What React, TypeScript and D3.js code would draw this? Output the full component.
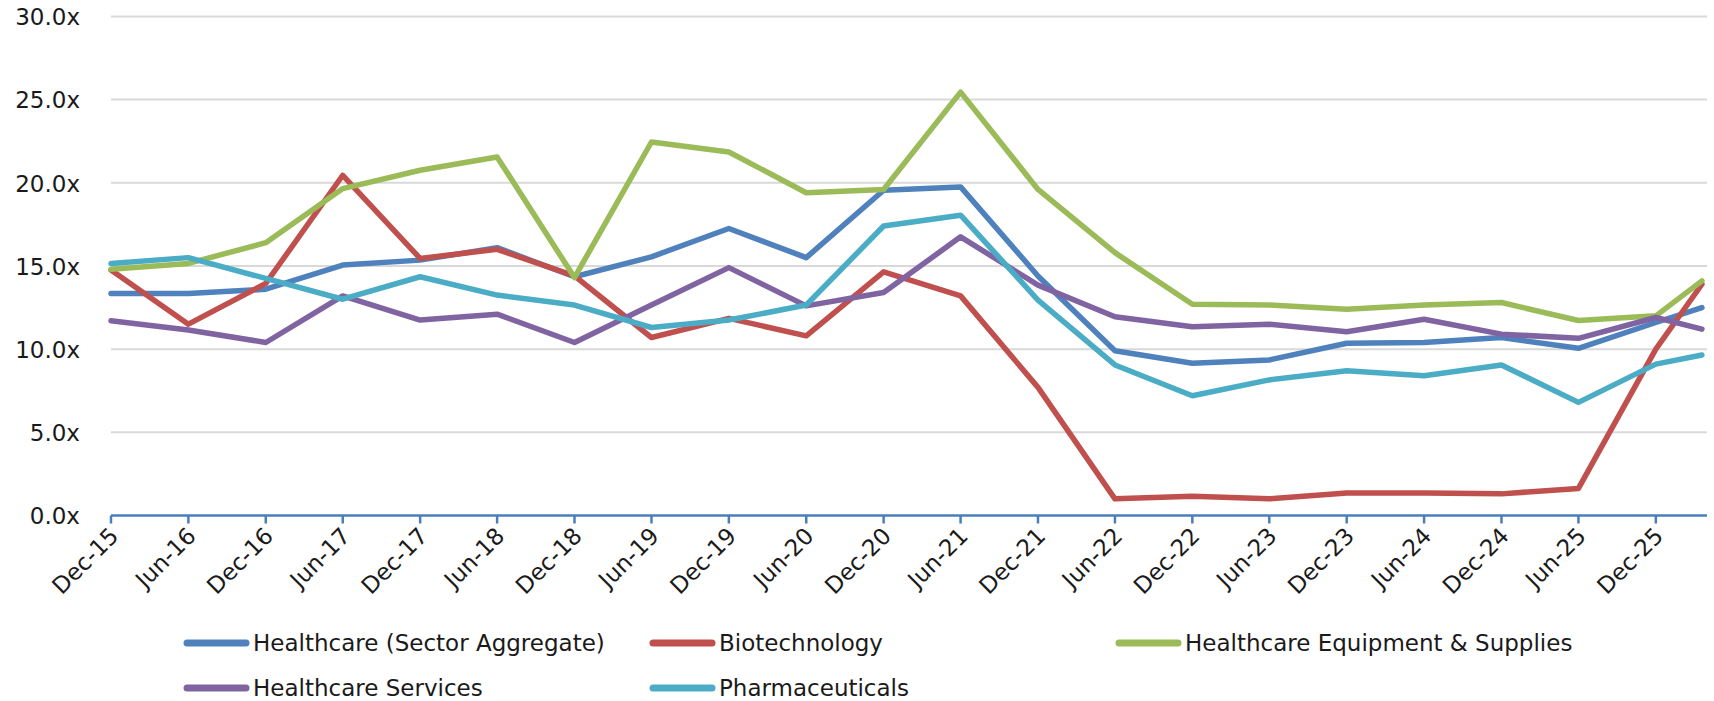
import React, { useEffect, useRef } from "react";
import * as d3 from "d3";

// semi-annual period labels on the x axis
const periods = [
  "Dec-15", "Jun-16", "Dec-16", "Jun-17", "Dec-17", "Jun-18", "Dec-18",
  "Jun-19", "Dec-19", "Jun-20", "Dec-20", "Jun-21", "Dec-21", "Jun-22",
  "Dec-22", "Jun-23", "Dec-23", "Jun-24", "Dec-24", "Jun-25", "Dec-25",
];
// last (current) observation, between Dec-25 and Jun-26
const latestDate = "2026-03-20";
const axisEndDate = "2026-04-01";

const yTicks = [0, 5, 10, 15, 20, 25, 30];

const seriesNames = [
  "Healthcare (Sector Aggregate)",
  "Biotechnology",
  "Healthcare Equipment & Supplies",
  "Healthcare Services",
  "Pharmaceuticals",
];

const healthcare = [13.35, 13.35, 13.6, 15.05, 15.35, 16.1, 14.35, 15.55, 17.25, 15.5, 19.55, 19.75, 14.4, 9.9, 9.15, 9.35, 10.35, 10.4, 10.7, 10.05, 11.6, 12.5];
const biotech = [14.75, 11.5, 13.95, 20.45, 15.45, 16.0, 14.4, 10.7, 11.85, 10.8, 14.65, 13.2, 7.7, 1.0, 1.15, 1.0, 1.35, 1.35, 1.3, 1.63, 10.0, 13.9];
const equipment = [14.8, 15.15, 16.4, 19.65, 20.75, 21.55, 14.3, 22.45, 21.85, 19.4, 19.6, 25.45, 19.6, 15.8, 12.7, 12.65, 12.4, 12.65, 12.8, 11.72, 12.0, 14.1];
const services = [11.7, 11.15, 10.4, 13.2, 11.75, 12.1, 10.4, 12.65, 14.9, 12.6, 13.4, 16.75, 13.85, 11.95, 11.35, 11.5, 11.05, 11.8, 10.9, 10.65, 11.9, 11.2];
const pharma = [15.15, 15.5, 14.25, 13.0, 14.35, 13.25, 12.65, 11.3, 11.75, 12.65, 17.4, 18.05, 12.95, 9.05, 7.2, 8.15, 8.7, 8.4, 9.05, 6.8, 9.1, 9.65];

const colors = ["#4F81BD", "#C0504D", "#9BBB59", "#8064A2", "#4BACC6"];

const FONT = "'DejaVu Sans', sans-serif";

export default function App() {
  const svgRef = useRef<SVGSVGElement | null>(null);
  const width = 1714;
  const height = 701;

  useEffect(() => {
    if (!svgRef.current) return;
    const svg = d3.select(svgRef.current);
    svg.selectAll("*").remove();

    const parse = d3.utcParse("%b-%y");
    const tickDates = periods.map((p) => parse(p) as Date);
    const dates = [...tickDates, new Date(latestDate)];

    const x = d3
      .scaleUtc()
      .domain([tickDates[0], new Date(axisEndDate)])
      .range([111, 1707]);
    const y = d3.scaleLinear().domain([0, 30]).range([515.5, 16.4]);

    // gridlines
    svg
      .append("g")
      .selectAll("line")
      .data(yTicks.filter((t) => t > 0))
      .enter()
      .append("line")
      .attr("x1", x.range()[0])
      .attr("x2", x.range()[1])
      .attr("y1", (d) => y(d))
      .attr("y2", (d) => y(d))
      .attr("stroke", "#d9d9d9")
      .attr("stroke-width", 2);

    // y labels
    svg
      .append("g")
      .selectAll("text")
      .data(yTicks)
      .enter()
      .append("text")
      .attr("x", 80)
      .attr("y", (d) => y(d))
      .attr("dy", "0.38em")
      .attr("text-anchor", "end")
      .attr("font-family", FONT)
      .attr("font-size", 23)
      .attr("fill", "#1a1a1a")
      .text((d) => d.toFixed(1) + "x");

    // series lines
    const all = [healthcare, biotech, equipment, services, pharma];
    const line = d3
      .line<number>()
      .x((_, i) => x(dates[i]))
      .y((d) => y(d));

    svg
      .append("g")
      .selectAll("path")
      .data(all)
      .enter()
      .append("path")
      .attr("d", (d) => line(d))
      .attr("fill", "none")
      .attr("stroke", (_, i) => colors[i])
      .attr("stroke-width", 5.5)
      .attr("stroke-linejoin", "round")
      .attr("stroke-linecap", "round");

    // x axis
    const xAxis = svg.append("g");
    xAxis
      .append("line")
      .attr("x1", x.range()[0])
      .attr("x2", x.range()[1])
      .attr("y1", y(0))
      .attr("y2", y(0))
      .attr("stroke", "#4A7EBB")
      .attr("stroke-width", 2.5);
    xAxis
      .selectAll(".tick")
      .data(tickDates)
      .enter()
      .append("line")
      .attr("x1", (d) => x(d))
      .attr("x2", (d) => x(d))
      .attr("y1", y(0))
      .attr("y2", y(0) + 8)
      .attr("stroke", "#4A7EBB")
      .attr("stroke-width", 2.5);
    xAxis
      .selectAll("text")
      .data(tickDates)
      .enter()
      .append("text")
      .attr("transform", (d) => `translate(${x(d) - 3}, ${y(0) + 10}) rotate(-45)`)
      .attr("dy", "0.73em")
      .attr("text-anchor", "end")
      .attr("font-family", FONT)
      .attr("font-size", 23)
      .attr("fill", "#1a1a1a")
      .text((_, i) => periods[i]);

    // legend, two rows
    const legendX = [184, 650, 1116];
    const legend = svg
      .append("g")
      .selectAll("g")
      .data(seriesNames)
      .enter()
      .append("g")
      .attr("transform", (_, i) => `translate(${legendX[i % 3]}, ${i < 3 ? 643 : 688})`);
    legend
      .append("line")
      .attr("x1", 3)
      .attr("x2", 62)
      .attr("stroke", (_, i) => colors[i])
      .attr("stroke-width", 7)
      .attr("stroke-linecap", "round");
    legend
      .append("text")
      .attr("x", 69)
      .attr("dy", "0.36em")
      .attr("font-family", FONT)
      .attr("font-size", 23)
      .attr("fill", "#1a1a1a")
      .text((d) => d);
  }, []);

  return (
    <svg
      ref={svgRef}
      width={width}
      height={height}
      style={{ position: "absolute", left: 0, top: 0, background: "#fff" }}
    />
  );
}
